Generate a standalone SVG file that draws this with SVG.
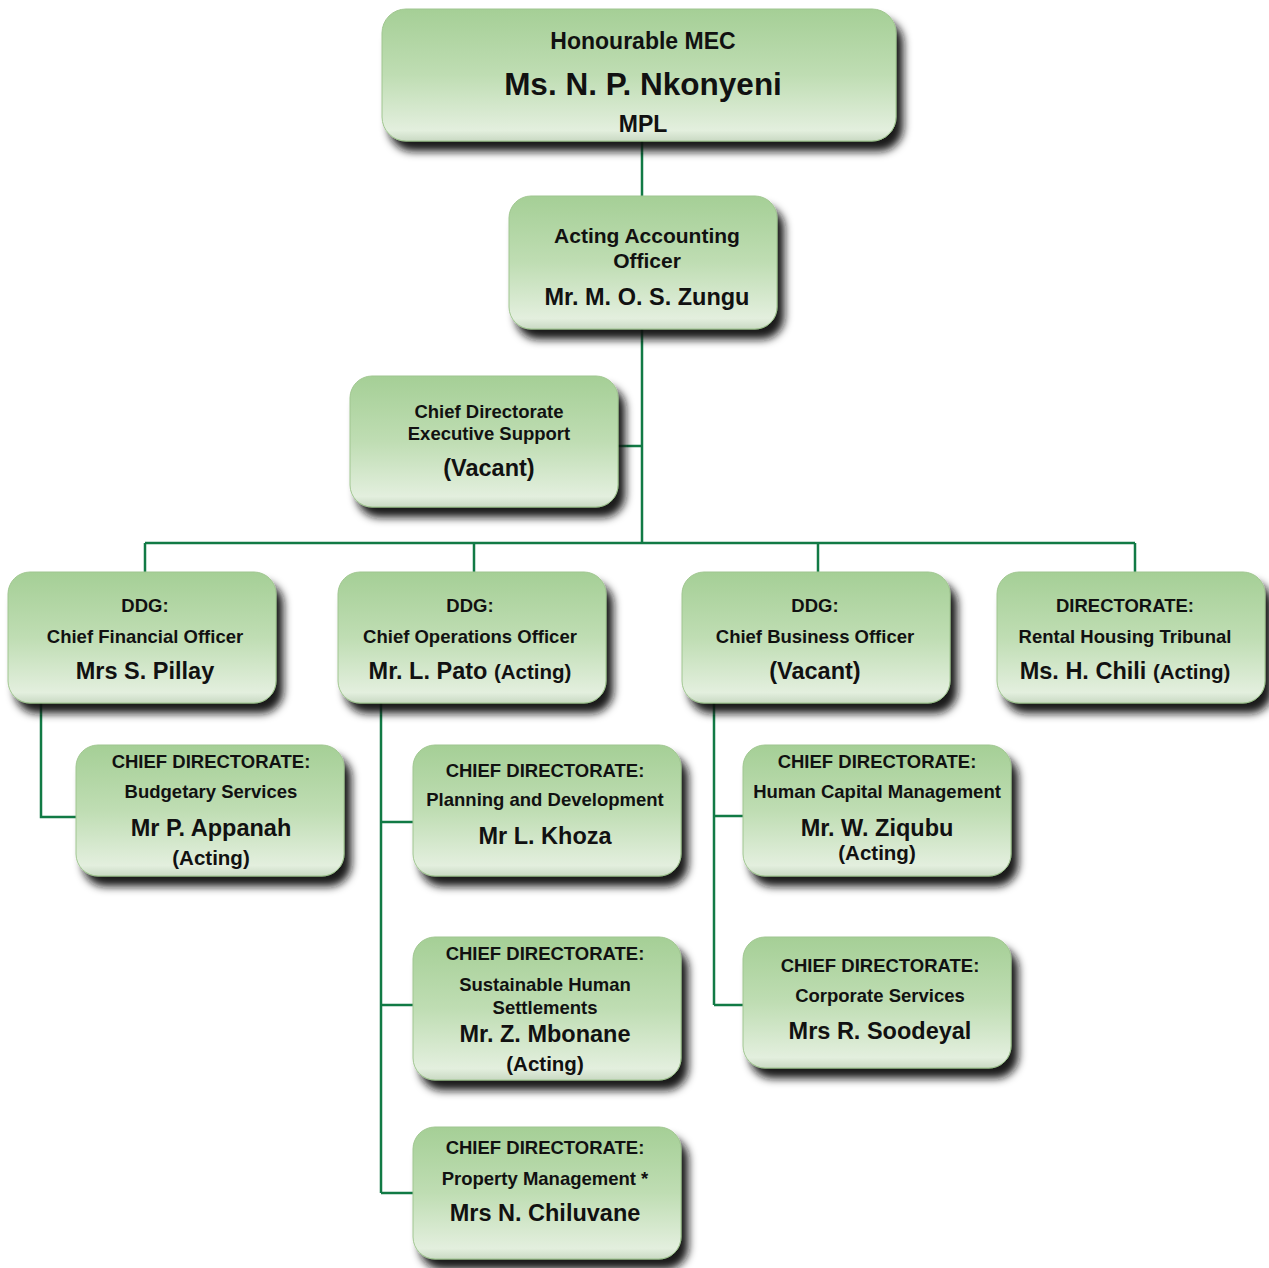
<svg xmlns="http://www.w3.org/2000/svg" width="1269" height="1268" viewBox="0 0 1269 1268">
<defs>
<linearGradient id="face" x1="0" y1="0" x2="0" y2="1">
<stop offset="0" stop-color="#a5cf96"/>
<stop offset="0.5" stop-color="#bfddb3"/>
<stop offset="0.92" stop-color="#e3efde"/>
<stop offset="1" stop-color="#c9d9c3"/>
</linearGradient>
<filter id="sh" x="-10%" y="-10%" width="125%" height="140%">
<feGaussianBlur in="SourceAlpha" stdDeviation="4.5" result="b"/>
<feOffset in="b" dx="7" dy="10" result="o"/>
<feFlood flood-color="#111" flood-opacity="0.95"/>
<feComposite in2="o" operator="in" result="s"/>
<feMerge><feMergeNode in="s"/><feMergeNode in="SourceGraphic"/></feMerge>
</filter>
</defs>
<style>
.box{fill:url(#face);stroke:#a0c690;stroke-width:1;filter:url(#sh)}
.ln{stroke:#117a45;stroke-width:2.5;fill:none}
text{font-family:"Liberation Sans",Arial,sans-serif;font-weight:bold;fill:#111;text-anchor:middle}
.s{font-size:18.5px}
.n{font-size:23.5px}
.a{font-size:20.5px}
</style>
<g id="connectors">
<path class="ln" d="M642 141V543M616 446H642M145 543H1135M145 543V573M474 543V573M818 543V573M1135 543V573"/>
<path class="ln" d="M41 702V817H77"/>
<path class="ln" d="M381 702V1193M381 822H414M381 1005H414M381 1193H414"/>
<path class="ln" d="M714 702V1005M714 816H744M714 1005H744"/>
</g>
<g id="mec">
<rect class="box" x="382" y="9" width="514" height="132" rx="24"/>
<text x="643" y="49" style="font-size:23px">Honourable MEC</text>
<text x="643" y="95" style="font-size:31.5px">Ms. N. P. Nkonyeni</text>
<text x="643" y="132" style="font-size:23px">MPL</text>
</g>
<g id="aao">
<rect class="box" x="509" y="196" width="268" height="133" rx="22"/>
<text x="647" y="243" style="font-size:21px">Acting Accounting</text>
<text x="647" y="268" style="font-size:21px">Officer</text>
<text x="647" y="305" class="n">Mr. M. O. S. Zungu</text>
</g>
<g id="exec">
<rect class="box" x="350" y="376" width="268" height="131" rx="22"/>
<text x="489" y="418" class="s">Chief Directorate</text>
<text x="489" y="440" class="s">Executive Support</text>
<text x="489" y="476" class="n">(Vacant)</text>
</g>
<g id="cfo">
<rect class="box" x="8" y="572" width="268" height="131" rx="22"/>
<text x="145" y="612" class="s">DDG:</text>
<text x="145" y="643" class="s">Chief Financial Officer</text>
<text x="145" y="679" class="n">Mrs S. Pillay</text>
</g>
<g id="coo">
<rect class="box" x="338" y="572" width="268" height="131" rx="22"/>
<text x="470" y="612" class="s">DDG:</text>
<text x="470" y="643" class="s">Chief Operations Officer</text>
<text x="470" y="679" class="n">Mr. L. Pato <tspan class="a">(Acting)</tspan></text>
</g>
<g id="cbo">
<rect class="box" x="682" y="572" width="268" height="131" rx="22"/>
<text x="815" y="612" class="s">DDG:</text>
<text x="815" y="643" class="s">Chief Business Officer</text>
<text x="815" y="679" class="n">(Vacant)</text>
</g>
<g id="rental">
<rect class="box" x="997" y="572" width="268" height="131" rx="22"/>
<text x="1125" y="612" class="s">DIRECTORATE:</text>
<text x="1125" y="643" class="s">Rental Housing Tribunal</text>
<text x="1125" y="679" class="n">Ms. H. Chili <tspan class="a">(Acting)</tspan></text>
</g>
<g id="budget">
<rect class="box" x="76" y="745" width="268" height="131" rx="22"/>
<text x="211" y="768" class="s">CHIEF DIRECTORATE:</text>
<text x="211" y="798" class="s">Budgetary Services</text>
<text x="211" y="836" class="n">Mr P. Appanah</text>
<text x="211" y="865" class="a">(Acting)</text>
</g>
<g id="planning">
<rect class="box" x="413" y="745" width="268" height="131" rx="22"/>
<text x="545" y="777" class="s">CHIEF DIRECTORATE:</text>
<text x="545" y="806" class="s">Planning and Development</text>
<text x="545" y="844" class="n">Mr L. Khoza</text>
</g>
<g id="sustainable">
<rect class="box" x="413" y="937" width="268" height="143" rx="22"/>
<text x="545" y="960" class="s">CHIEF DIRECTORATE:</text>
<text x="545" y="991" class="s">Sustainable Human</text>
<text x="545" y="1014" class="s">Settlements</text>
<text x="545" y="1042" class="n">Mr. Z. Mbonane</text>
<text x="545" y="1071" class="a">(Acting)</text>
</g>
<g id="property">
<rect class="box" x="413" y="1127" width="268" height="132" rx="22"/>
<text x="545" y="1154" class="s">CHIEF DIRECTORATE:</text>
<text x="545" y="1185" class="s">Property Management *</text>
<text x="545" y="1221" class="n">Mrs N. Chiluvane</text>
</g>
<g id="hcm">
<rect class="box" x="743" y="745" width="268" height="131" rx="22"/>
<text x="877" y="768" class="s">CHIEF DIRECTORATE:</text>
<text x="877" y="798" class="s">Human Capital Management</text>
<text x="877" y="836" class="n">Mr. W. Ziqubu</text>
<text x="877" y="860" class="a">(Acting)</text>
</g>
<g id="corporate">
<rect class="box" x="743" y="937" width="268" height="131" rx="22"/>
<text x="880" y="972" class="s">CHIEF DIRECTORATE:</text>
<text x="880" y="1002" class="s">Corporate Services</text>
<text x="880" y="1039" class="n">Mrs R. Soodeyal</text>
</g>
</svg>
